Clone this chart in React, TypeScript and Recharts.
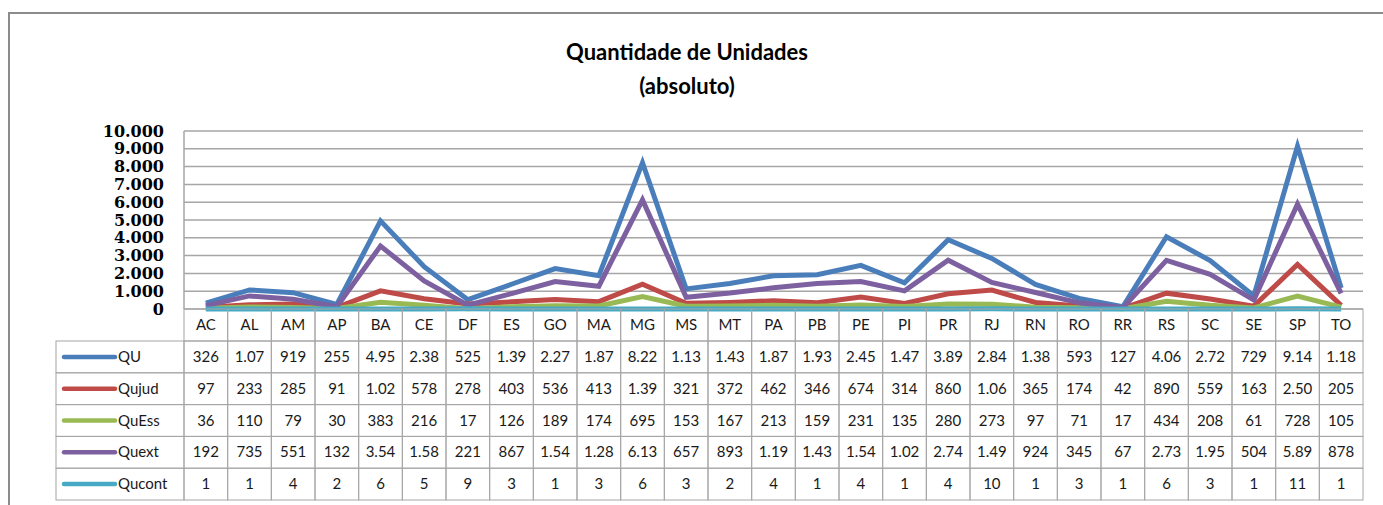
import React from "react";
import { LineChart, Line, XAxis, YAxis, CartesianGrid } from "recharts";

const UFS = ["AC", "AL", "AM", "AP", "BA", "CE", "DF", "ES", "GO", "MA", "MG", "MS", "MT", "PA", "PB", "PE", "PI", "PR", "RJ", "RN", "RO", "RR", "RS", "SC", "SE", "SP", "TO"];

const QU = [326, 1070, 919, 255, 4950, 2380, 525, 1390, 2270, 1870, 8220, 1130, 1430, 1870, 1930, 2450, 1470, 3890, 2840, 1380, 593, 127, 4060, 2720, 729, 9140, 1180];
const QUJUD = [97, 233, 285, 91, 1020, 578, 278, 403, 536, 413, 1390, 321, 372, 462, 346, 674, 314, 860, 1060, 365, 174, 42, 890, 559, 163, 2500, 205];
const QUESS = [36, 110, 79, 30, 383, 216, 17, 126, 189, 174, 695, 153, 167, 213, 159, 231, 135, 280, 273, 97, 71, 17, 434, 208, 61, 728, 105];
const QUEXT = [192, 735, 551, 132, 3540, 1580, 221, 867, 1540, 1280, 6130, 657, 893, 1190, 1430, 1540, 1020, 2740, 1490, 924, 345, 67, 2730, 1950, 504, 5890, 878];
const QUCONT = [1, 1, 4, 2, 6, 5, 9, 3, 1, 3, 6, 3, 2, 4, 1, 4, 1, 4, 10, 1, 3, 1, 6, 3, 1, 11, 1];

const Y_TICKS = [0, 1000, 2000, 3000, 4000, 5000, 6000, 7000, 8000, 9000, 10000];

const SERIES = [
  { key: "QU", label: "QU", values: QU, color: "#4a7ebb" },
  { key: "Qujud", label: "Qujud", values: QUJUD, color: "#be4b48" },
  { key: "QuEss", label: "QuEss", values: QUESS, color: "#98b954" },
  { key: "Quext", label: "Quext", values: QUEXT, color: "#7d60a0" },
  { key: "Qucont", label: "Qucont", values: QUCONT, color: "#46aac5" },
];

const data = UFS.map((uf, i) => {
  const row: Record<string, string | number> = { uf };
  SERIES.forEach((s) => (row[s.key] = s.values[i]));
  return row;
});

const W = 1383;
const H = 505;
const PLOT_LEFT = 184;
const PLOT_RIGHT = 1363;
const PLOT_TOP = 131;
const TABLE_BOTTOM = 500;
const BAND = (PLOT_RIGHT - PLOT_LEFT) / UFS.length;
const HEAD_H = 32;
const ROW_H = 31.8;
const GRID = "#a6a6a6";
const FONT = "Lato, 'Open Sans', sans-serif";
const TXT = 15;

const thousands = (n: number) =>
  n >= 1000 ? `${Math.floor(n / 1000)}.${String(n % 1000).padStart(3, "0")}` : String(n);

// Excel's data table cuts long numbers to fit the column
const cell = (n: number) => thousands(n).slice(0, 4);

function TableColumn(props: any) {
  const { x, y, payload } = props;
  const i = UFS.indexOf(payload.value);
  const left = x - BAND / 2;
  return (
    <g>
      <rect x={left} y={y} width={BAND} height={HEAD_H} fill="none" stroke={GRID} />
      <text x={x} y={y + HEAD_H / 2 + 5} textAnchor="middle" fontFamily={FONT} fontSize={TXT} fill="#1a1a1a">
        {payload.value}
      </text>
      {SERIES.map((s, r) => {
        const top = y + HEAD_H + r * ROW_H;
        return (
          <g key={s.key}>
            <rect x={left} y={top} width={BAND} height={ROW_H} fill="none" stroke={GRID} />
            <text x={x} y={top + ROW_H / 2 + 5} textAnchor="middle" fontFamily={FONT} fontSize={TXT} fill="#1a1a1a">
              {cell(s.values[i])}
            </text>
          </g>
        );
      })}
    </g>
  );
}

function LegendColumn() {
  const top = 309 + HEAD_H;
  return (
    <svg width={W} height={H} style={{ position: "absolute", left: 0, top: 0, pointerEvents: "none" }}>
      {SERIES.map((s, r) => {
        const y = top + r * ROW_H;
        return (
          <g key={s.key}>
            <rect x={56} y={y} width={PLOT_LEFT - 56} height={ROW_H} fill="none" stroke={GRID} />
            <line x1={64} x2={115} y1={y + ROW_H / 2} y2={y + ROW_H / 2} stroke={s.color} strokeWidth={4.5} strokeLinecap="round" />
            <text x={118} y={y + ROW_H / 2 + 5} fontFamily={FONT} fontSize={TXT} fill="#1a1a1a">
              {s.label}
            </text>
          </g>
        );
      })}
    </svg>
  );
}

export default function App() {
  return (
    <div style={{ position: "absolute", left: 0, top: 0, width: W, height: H, background: "#fff", overflow: "hidden" }}>
      <div style={{ position: "absolute", left: 8, top: 12, width: 1420, height: 540, border: "2px solid #8c8c8c" }} />
      <div style={{ position: "absolute", left: 0, top: 35, width: 1374, textAlign: "center", fontFamily: FONT, fontWeight: 700, fontSize: 22, lineHeight: "34px", color: "#000" }}>
        Quantidade de Unidades
        <br />
        (absoluto)
      </div>
      <div style={{ position: "absolute", left: 0, top: 0 }}>
        <LineChart width={W} height={H} data={data} margin={{ top: PLOT_TOP, right: W - PLOT_RIGHT, bottom: H - TABLE_BOTTOM, left: 0 }}>
          <CartesianGrid vertical={false} stroke={GRID} strokeWidth={1.5} />
          <YAxis
            width={PLOT_LEFT}
            domain={[0, 10000]}
            ticks={Y_TICKS}
            interval={0}
            tickSize={0}
            tickMargin={20}
            axisLine={{ stroke: GRID, strokeWidth: 1.5 }}
            tickFormatter={thousands}
            tick={{ fill: "#000", fontFamily: "'DejaVu Serif', serif", fontWeight: 700, fontSize: 16 }}
          />
          <XAxis
            dataKey="uf"
            height={TABLE_BOTTOM - 309}
            interval={0}
            tickSize={0}
            tickMargin={0}
            axisLine={false}
            padding={{ left: BAND / 2, right: BAND / 2 }}
            tick={(p: any) => <TableColumn {...p} />}
          />
          {SERIES.map((s) => (
            <Line
              key={s.key}
              dataKey={s.key}
              stroke={s.color}
              strokeWidth={5}
              dot={false}
              type="linear"
              isAnimationActive={false}
            />
          ))}
        </LineChart>
      </div>
      <LegendColumn />
    </div>
  );
}
